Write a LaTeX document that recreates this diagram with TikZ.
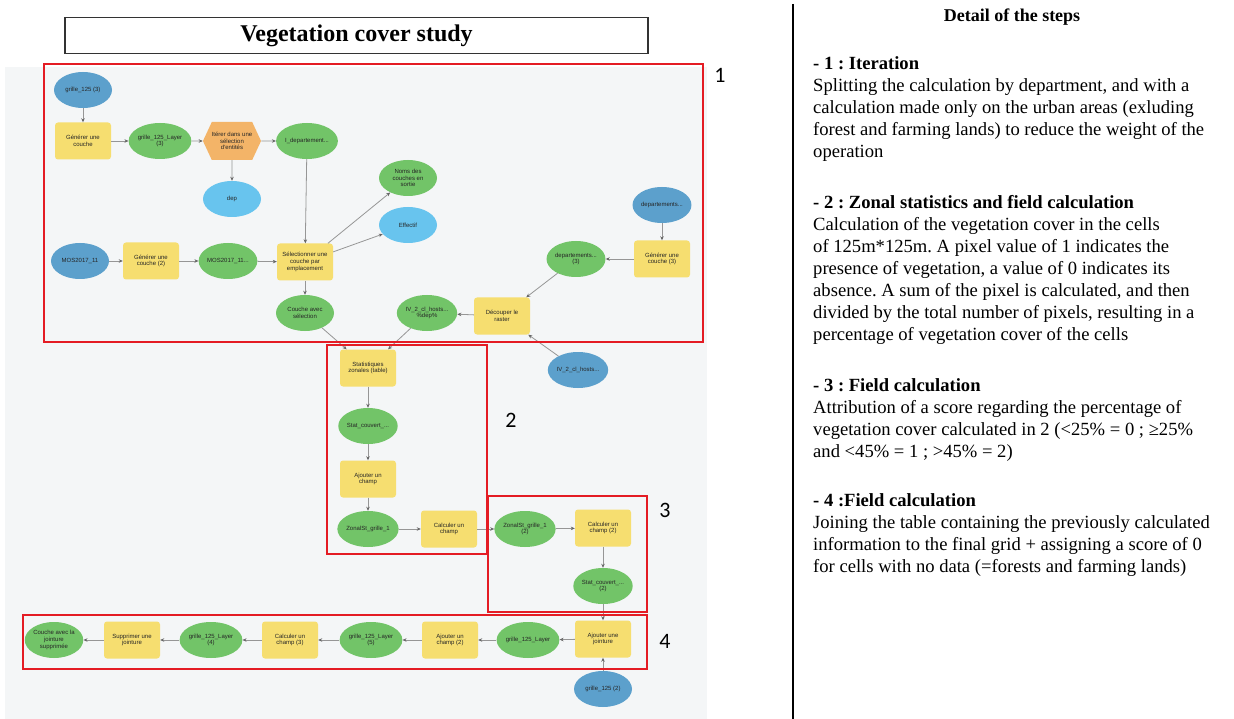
\documentclass[tikz,border=0pt]{standalone}
\usepackage{fontspec}
\setmainfont{Liberation Serif}
\newfontfamily\nodefont{Liberation Sans}
\newfontfamily\numfont{Carlito}
\usetikzlibrary{shapes.geometric,shapes.symbols,arrows.meta}
\frenchspacing
\definecolor{bgc}{RGB}{244,246,247}
\definecolor{inblue}{RGB}{92,160,204}
\definecolor{outblue}{RGB}{104,196,238}
\definecolor{grn}{RGB}{114,196,104}
\definecolor{ylw}{RGB}{246,222,112}
\definecolor{org}{RGB}{243,180,104}
\definecolor{redb}{RGB}{228,28,36}
\definecolor{edg}{RGB}{150,150,150}
\tikzset{
  base/.style={font=\nodefont\fontsize{6}{6.8}\selectfont, text=black!85, align=center, inner sep=0pt},
  inp/.style={base, ellipse, fill=inblue, minimum width=58pt, minimum height=36pt},
  outp/.style={base, ellipse, fill=outblue, minimum width=58pt, minimum height=36pt},
  data/.style={base, ellipse, fill=grn, minimum width=58pt, minimum height=36pt},
  tool/.style={base, rectangle, rounded corners=3pt, fill=ylw, minimum width=56pt, minimum height=37pt},
  iterbox/.style={base, signal, signal to=east and west, signal pointer angle=130, fill=org, minimum width=56pt, minimum height=38pt},
  conn/.style={draw=edg, line width=0.8pt, -{Stealth[length=4pt,width=3.5pt,color=black!60]}},
  redbox/.style={draw=redb, line width=2.6pt},
  numlab/.style={font=\numfont\fontsize{22}{24}\selectfont, inner sep=0pt},
  steptext/.style={font=\fontsize{18.6}{22}\selectfont, align=left, anchor=north west, inner sep=0pt},
}
\begin{document}
\begin{tikzpicture}[x=1pt,y=-1pt]
\useasboundingbox (0,0) rectangle (1234,719);
\fill[white] (0,0) rectangle (1234,719);
\fill[bgc] (5,67) rectangle (707,719);
% title
\node[draw=black!80, line width=1.3pt, minimum width=583pt, minimum height=36pt, inner sep=0pt, font=\bfseries\fontsize{24}{26}\selectfont] (title) at (356.5,35.5) {Vegetation cover study};
\draw[line width=2pt] (793,4) coordinate (vtop) -- (793,719) coordinate (vbot);
% nodes group 1
\node[inp] (g3) at (83,90) {grille\_125 (3)};
\node[tool] (gen1) at (83,141) {Générer une\\couche};
\node[data] (gl3) at (160,141) {grille\_125\_Layer\\(3)};
\node[iterbox] (iter) at (232,141) {Itérer dans une\\sélection\\d'entités};
\node[data] (idep) at (307,141) {I\_departement...};
\node[outp] (dep) at (232,199) {dep};
\node[data] (noms) at (408,178) {Noms des\\couches en\\sortie};
\node[outp] (eff) at (408,225) {Effectif};
\node[inp] (deptb) at (662,205) {departements...};
\node[tool] (gen3) at (662,259) {Générer une\\couche (3)};
\node[data] (dep3) at (576,259) {departements...\\(3)};
\node[tool] (dec) at (502,316) {Découper le\\raster};
\node[data] (ivdep) at (427,313) {IV\_2\_cl\_hosts...\\\%dep\%};
\node[inp] (mos) at (80,261) {MOS2017\_11};
\node[tool] (gen2) at (151,261) {Générer une\\couche (2)};
\node[data] (mos2) at (228,261) {MOS2017\_11...};
\node[tool] (sel) at (305,262) {Sélectionner une\\couche par\\emplacement};
\node[data] (cas) at (305,313) {Couche avec\\sélection};
\node[inp] (ivb) at (578,370) {IV\_2\_cl\_hosts...};
% group 2
\node[tool] (stats) at (368,368) {Statistiques\\zonales (table)};
\node[data] (sc1) at (368,426) {Stat\_couvert\_...};
\node[tool] (aj1) at (368,479) {Ajouter un\\champ};
\node[data] (zg1) at (368,529) {ZonalSt\_grille\_1};
\node[tool] (cc1) at (449,529) {Calculer un\\champ};
% group 3
\node[data] (zg2) at (525,529) {ZonalSt\_grille\_1\\(2)};
\node[tool] (cc2) at (603,528) {Calculer un\\champ (2)};
\node[data] (sc2) at (603,586) {Stat\_couvert\_...\\(2)};
% group 4
\node[tool] (ajj) at (603,639) {Ajouter une\\jointure};
\node[inp] (g2) at (603,689) {grille\_125 (2)};
\node[data] (gl) at (528,640) {grille\_125\_Layer};
\node[tool] (aj2) at (450,640) {Ajouter un\\champ (2)};
\node[data] (gl5) at (371,640) {grille\_125\_Layer\\(5)};
\node[tool] (cc3) at (290,640) {Calculer un\\champ (3)};
\node[data] (gl4) at (211,640) {grille\_125\_Layer\\(4)};
\node[tool] (sup) at (132,640) {Supprimer une\\jointure};
\node[data] (fin) at (54,640) {Couche avec la\\jointure\\supprimée};
% connectors
\draw[conn] (g3) -- (gen1);
\draw[conn] (gen1) -- (gl3);
\draw[conn] (gl3) -- (iter);
\draw[conn] (iter) -- (idep);
\draw[conn] (iter) -- (dep);
\draw[conn] (idep) -- (sel);
\draw[conn] (mos) -- (gen2);
\draw[conn] (gen2) -- (mos2);
\draw[conn] (mos2) -- (sel);
\draw[conn] (sel) -- (noms);
\draw[conn] (sel) -- (eff);
\draw[conn] (sel) -- (cas);
\draw[conn] (deptb) -- (gen3);
\draw[conn] (gen3) -- (dep3);
\draw[conn] (dep3) -- (dec);
\draw[conn] (ivb) -- (dec);
\draw[conn] (dec) -- (ivdep);
\draw[conn] (cas) -- (stats);
\draw[conn] (ivdep) -- (stats);
\draw[conn] (stats) -- (sc1);
\draw[conn] (sc1) -- (aj1);
\draw[conn] (aj1) -- (zg1);
\draw[conn] (zg1) -- (cc1);
\draw[conn] (cc1) -- (zg2);
\draw[conn] (zg2) -- (cc2);
\draw[conn] (cc2) -- (sc2);
\draw[conn] (sc2) -- (ajj);
\draw[conn] (g2) -- (ajj);
\draw[conn] (ajj) -- (gl);
\draw[conn] (gl) -- (aj2);
\draw[conn] (aj2) -- (gl5);
\draw[conn] (gl5) -- (cc3);
\draw[conn] (cc3) -- (gl4);
\draw[conn] (gl4) -- (sup);
\draw[conn] (sup) -- (fin);
% red boxes
\draw[redbox] (44,64) rectangle (703,342);
\draw[redbox] (327,345) rectangle (487,554);
\draw[redbox] (488,496) rectangle (647,612);
\draw[redbox] (23,615) rectangle (647,669);
\node[numlab] (n1) at (720,75) {1};
\node[numlab] (n2) at (511,420) {2};
\node[numlab] (n3) at (665,510) {3};
\node[numlab] (n4) at (665,641) {4};
% right text
\node[font=\bfseries\fontsize{18}{20}\selectfont, inner sep=0pt] (dtitle) at (1012,17) {Detail of the steps};
\node[steptext] (s1) at (813,56) {\textbf{- 1 : Iteration}\\
Splitting the calculation by department, and with a\\
calculation made only on the urban areas (exluding\\
forest and farming lands) to reduce the weight of the\\
operation};
\node[steptext] (s2) at (813,195) {\textbf{- 2 : Zonal statistics and field calculation}\\
Calculation of the vegetation cover in the cells\\
of 125m*125m. A pixel value of 1 indicates the\\
presence of vegetation, a value of 0 indicates its\\
absence. A sum of the pixel is calculated, and then\\
divided by the total number of pixels, resulting in a\\
percentage of vegetation cover of the cells};
\node[steptext] (s3) at (813,378) {\textbf{- 3 : Field calculation}\\
Attribution of a score regarding the percentage of\\
vegetation cover calculated in 2 (<25\% = 0 ; ≥25\%\\
and <45\% = 1 ; >45\% = 2)};
\node[steptext] (s4) at (813,493) {\textbf{- 4 :Field calculation}\\
Joining the table containing the previously calculated\\
information to the final grid + assigning a score of 0\\
for cells with no data (=forests and farming lands)};
\end{tikzpicture}
\end{document}
